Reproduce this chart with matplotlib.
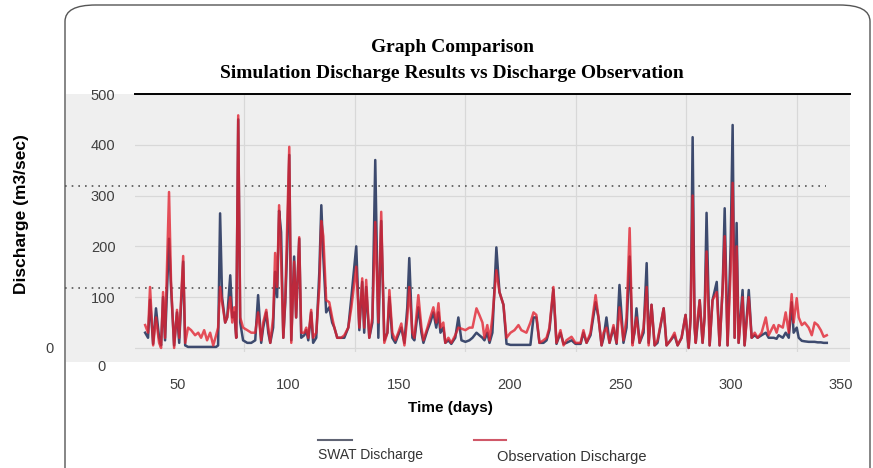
import matplotlib
matplotlib.use("Agg")
import matplotlib.pyplot as plt
from matplotlib.patches import FancyBboxPatch, Rectangle

# daily discharge (day, observation, SWAT)
days = [35.1, 36.4, 37.3, 38.7, 40.0, 41.4, 42.3, 43.2, 44.1, 45.9, 46.8, 48.2, 49.5,
        50.5, 52.3, 53.2, 54.5, 55.9, 57.7, 59.1, 60.4, 61.8, 63.1, 64.5, 65.9, 67.2,
        68.1, 69.0, 69.9, 71.3, 72.2, 73.6, 74.5, 75.4, 76.3, 77.2, 78.1, 79.4, 81.3,
        83.1, 84.9, 86.2, 87.6, 88.5, 89.9, 90.8, 91.7, 93.0, 93.9, 94.8, 95.7, 96.6,
        97.6, 98.5, 99.4, 100.3, 101.2, 102.5, 103.4, 104.8, 105.7, 107.1, 108.0, 108.9,
        110.2, 111.1, 112.5, 113.9, 114.8, 115.7, 117.0, 118.4, 119.7, 120.7, 122.0,
        123.8, 125.2, 127.0, 128.4, 130.6, 132.0, 133.3, 134.2, 135.1, 136.5, 137.9,
        139.2, 140.6, 141.9, 143.3, 144.7, 145.6, 146.9, 148.3, 149.6, 151.0, 152.4,
        153.7, 154.6, 156.0, 156.9, 158.7, 160.1, 161.0, 162.8, 164.1, 165.5, 166.8,
        167.8, 168.7, 170.0, 170.9, 172.3, 173.6, 175.4, 176.8, 178.2, 180.0, 181.8,
        183.2, 185.0, 186.3, 187.7, 188.6, 189.9, 190.9, 192.2, 194.0, 195.4, 197.2,
        198.6, 200.4, 202.2, 204.0, 205.3, 207.6, 209.4, 210.8, 212.1, 213.5, 215.3,
        216.7, 218.0, 219.8, 221.2, 223.0, 224.4, 225.7, 228.0, 229.8, 232.1, 233.4,
        234.8, 236.6, 238.9, 240.2, 241.6, 242.5, 243.8, 245.2, 247.0, 248.4, 249.7,
        251.5, 252.9, 254.3, 255.6, 256.5, 257.4, 258.8, 260.6, 262.0, 262.9, 264.2,
        265.6, 266.9, 269.7, 271.0, 272.8, 274.6, 276.0, 277.8, 279.6, 281.0, 281.9,
        282.8, 283.7, 284.2, 285.1, 286.0, 287.3, 288.2, 289.1, 290.5, 291.8, 293.7,
        295.0, 296.4, 297.3, 298.6, 300.0, 300.9, 301.8, 302.7, 303.6, 305.4, 306.3,
        308.2, 309.5, 310.9, 312.2, 314.0, 315.9, 317.2, 319.5, 320.8, 321.7, 323.6,
        324.9, 326.3, 327.6, 328.5, 329.9, 330.8, 332.2, 333.5, 335.3, 336.7, 338.0,
        339.4, 340.8, 342.1, 343.5]

observation = [45, 30, 120, 5, 60, 10, 0, 110, 20, 307, 130, 0, 75,
               20, 181, 10, 40, 35, 25, 30, 20, 35, 15, 30, 5, 25,
               40, 120, 90, 50, 60, 100, 50, 80, 20, 458, 60, 40, 35,
               30, 30, 70, 15, 50, 75, 40, 10, 60, 187, 120, 281, 180,
               20, 100, 250, 396, 10, 170, 60, 218, 30, 30, 40, 20,
               75, 20, 30, 120, 250, 220, 94, 90, 60, 40, 20,
               20, 25, 40, 80, 160, 40, 137, 40, 134, 20, 60,
               248, 50, 268, 10, 30, 114, 30, 15, 30, 48, 5,
               60, 120, 30, 20, 104, 40, 15, 40, 60, 80, 50,
               88, 40, 50, 10, 20, 10, 25, 40, 38, 35, 40,
               40, 78, 65, 50, 20, 45, 15, 60, 153, 110, 85,
               20, 30, 35, 45, 35, 30, 50, 70, 65, 10, 15,
               20, 40, 120, 10, 35, 5, 15, 22, 10, 10, 35,
               10, 30, 104, 60, 5, 30, 40, 10, 45, 10, 80,
               15, 60, 236, 5, 35, 60, 10, 40, 120, 5, 85,
               5, 15, 78, 5, 15, 30, 5, 20, 65, 0, 60,
               300, 40, 10, 60, 94, 10, 60, 190, 5, 94, 110,
               5, 120, 220, 5, 150, 325, 20, 200, 10, 100, 5,
               100, 20, 30, 20, 30, 60, 25, 45, 30, 45, 40,
               70, 30, 106, 50, 98, 60, 45, 50, 40, 25, 50,
               45, 35, 22, 25]

swat = [30, 20, 95, 8, 78, 20, 5, 100, 15, 215, 120, 5, 70,
        10, 170, 5, 2, 2, 2, 2, 2, 2, 2, 2, 2, 2,
        5, 265, 100, 50, 60, 143, 60, 70, 20, 450, 50, 15, 10,
        10, 15, 104, 10, 40, 70, 30, 10, 40, 150, 100, 270, 228,
        20, 90, 200, 380, 15, 180, 60, 215, 20, 25, 35, 15,
        70, 10, 20, 150, 281, 180, 70, 80, 50, 40, 20,
        20, 20, 40, 100, 200, 35, 130, 30, 120, 20, 50,
        370, 20, 250, 15, 30, 100, 20, 10, 25, 40, 10,
        80, 177, 20, 15, 80, 30, 10, 35, 50, 70, 40,
        70, 30, 40, 10, 15, 8, 20, 60, 15, 12, 15,
        20, 30, 25, 20, 15, 30, 10, 30, 198, 110, 85,
        8, 6, 6, 6, 6, 6, 6, 60, 60, 10, 10,
        15, 35, 115, 8, 30, 8, 10, 15, 8, 8, 30,
        10, 25, 90, 60, 5, 20, 60, 10, 40, 8, 124,
        10, 40, 180, 10, 30, 78, 10, 30, 167, 10, 85,
        5, 10, 78, 5, 15, 25, 5, 20, 65, 0, 60,
        415, 40, 10, 50, 94, 10, 60, 266, 5, 94, 130,
        5, 120, 275, 5, 200, 439, 20, 246, 10, 114, 5,
        114, 20, 25, 20, 25, 30, 20, 20, 18, 25, 20,
        30, 20, 90, 30, 40, 20, 14, 13, 12, 12, 12,
        11, 11, 10, 10]

y_ticks = [100, 200, 300, 400, 500]
x_ticks = [50, 100, 150, 200, 250, 300, 350]
grid_x = [80, 130, 180, 230, 280, 330]
ref_levels = [319, 118]
ref_ends = [343, 264]

W, H = 873, 468
sans = ['Liberation Sans', 'DejaVu Sans']

fig = plt.figure(figsize=(W / 100, H / 100), dpi=100)
fig.patch.set_facecolor('white')

def fx(px):
    return px / W

def fy(py):
    return 1 - py / H

# rounded outer frame
frame = FancyBboxPatch((fx(65), fy(490)), fx(805), 485 / H,
                       boxstyle="round,pad=0,rounding_size=0.035",
                       transform=fig.transFigure, facecolor='none',
                       edgecolor='#555555', linewidth=1.0, zorder=-2)
fig.patches.append(frame)

# grey plot background incl. left panel
fig.patches.append(Rectangle((fx(66), fy(362)), fx(784), 268 / H,
                             transform=fig.transFigure, facecolor='#efefef',
                             edgecolor='none', zorder=-1))

ax = fig.add_axes([fx(135), fy(352), fx(715), 258 / H])
ax.set_facecolor('none')
ax.set_xlim(30.5, 354)
ax.set_ylim(-8, 500)

for s in ['left', 'right', 'bottom']:
    ax.spines[s].set_visible(False)
ax.spines['top'].set_color('black')
ax.spines['top'].set_linewidth(1.4)

ax.set_yticks(y_ticks)
ax.set_xticks(x_ticks)
ax.set_xticks(grid_x, minor=True)
ax.tick_params(which='both', length=0)
ax.tick_params(axis='y', pad=14, labelcolor='#404040', labelsize=10.5)
ax.tick_params(axis='x', pad=19, labelcolor='#404040', labelsize=10.5)
for lab in ax.get_xticklabels() + ax.get_yticklabels():
    lab.set_family(sans)
for v in [0] + y_ticks:
    ax.axhline(v, color='#d8d8d8', lw=0.9, zorder=1)
for g in grid_x:
    ax.axvline(g, color='#d8d8d8', lw=0.9, zorder=1)

for lvl, end in zip(ref_levels, ref_ends):
    ax.plot([-1, end], [lvl, lvl], color='#555555', lw=1.2,
            linestyle=(0, (1, 3)), clip_on=False, zorder=2)

ax.plot(days, swat, color='#3d4a6e', lw=1.8, zorder=3)
ax.plot(days, observation, color='#e2202e', lw=1.8, alpha=0.78, zorder=4)

fig.text(fx(450), fy(408), 'Time (days)', ha='center', va='center',
         fontsize=11, fontweight='bold', family=sans)
fig.text(fx(22), fy(214), 'Discharge (m3/sec)', rotation=90, ha='center',
         va='center', fontsize=12.5, fontweight='bold', family=sans)

fig.text(fx(452), fy(48), 'Graph Comparison', ha='center', va='center',
         fontsize=14, fontweight='bold', family='Liberation Serif')
fig.text(fx(452), fy(74), 'Simulation Discharge Results vs Discharge Observation',
         ha='center', va='center', fontsize=14, fontweight='bold',
         family='Liberation Serif')

# stray zero labels
fig.text(fx(50), fy(349), '0', ha='center', va='center', fontsize=10.5,
         color='#404040', family=sans)
fig.text(fx(101), fy(367), '0', ha='center', va='center', fontsize=10.5,
         color='#404040', family=sans)

# legend
fig.add_artist(plt.Line2D([fx(318), fx(352)], [fy(440), fy(440)],
                          color='#606474', lw=1.5, transform=fig.transFigure))
fig.add_artist(plt.Line2D([fx(474), fx(506)], [fy(440), fy(440)],
                          color='#d05868', lw=1.5, transform=fig.transFigure))
fig.text(fx(318), fy(455), 'SWAT Discharge', ha='left', va='center',
         fontsize=10, color='#333333', family=sans)
fig.text(fx(497), fy(457), 'Observation Discharge', ha='left', va='center',
         fontsize=10.5, color='#333333', family=sans)

fig.savefig('out.png', dpi=100)
